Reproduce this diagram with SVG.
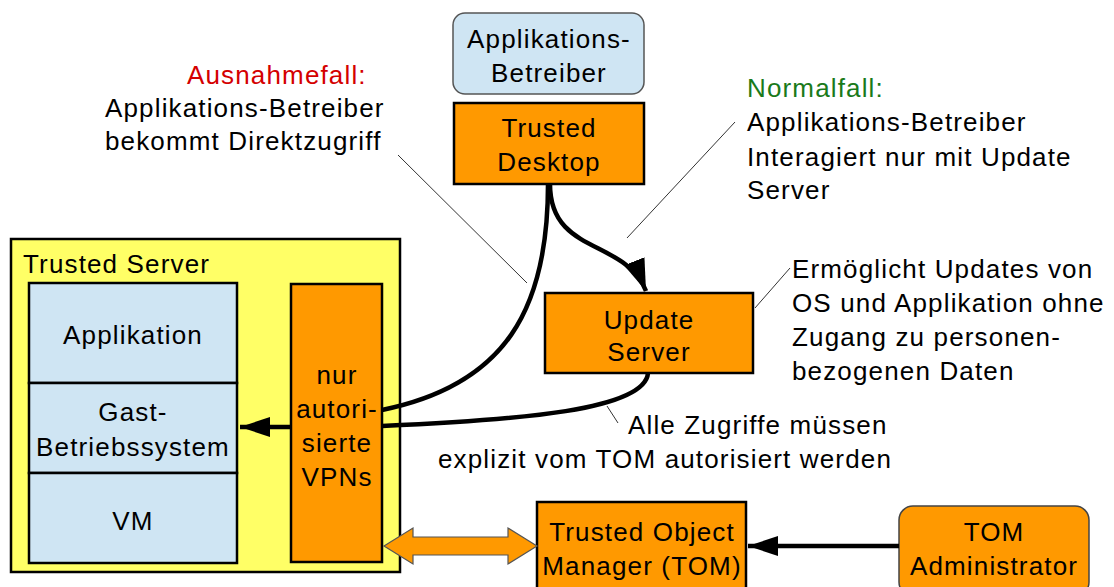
<svg xmlns="http://www.w3.org/2000/svg" width="1114" height="587" viewBox="0 0 1114 587">
  <style>
    text { font-family: "Liberation Sans", Arial, sans-serif; font-size: 26px; letter-spacing: 1.15px; fill: #000; }
    .c { text-anchor: middle; }
    .red { fill: #d40000; }
    .green { fill: #1a7a1a; }
    .orange { fill: #ff9900; stroke: #000; stroke-width: 2.5; }
    .blue { fill: #cfe5f3; stroke: #000; stroke-width: 2.5; }
    .soft { fill: #cfe5f3; stroke: #555; stroke-width: 1.5; }
    .flow { fill: none; stroke: #000; stroke-width: 4.5; }
    .lead { fill: none; stroke: #333; stroke-width: 1; }
  </style>
  <defs>
    <marker id="head" markerUnits="userSpaceOnUse" markerWidth="32" markerHeight="22" refX="30" refY="11" orient="auto" viewBox="0 0 32 22">
      <path d="M0,1 L30,11 L0,21 Z" fill="#000"/>
    </marker>
    <marker id="head-wide" markerUnits="userSpaceOnUse" markerWidth="34" markerHeight="26" refX="32" refY="13" orient="auto" viewBox="0 0 34 26">
      <path d="M0,2 L32,13 L0,24 Z" fill="#000"/>
    </marker>
  </defs>

  <rect width="1114" height="587" fill="#fff"/>

  <!-- Trusted Server with its guest stack and VPN gate -->
  <g id="trusted-server">
    <rect x="11" y="239" width="389" height="333" fill="#ffff66" stroke="#000" stroke-width="2.5"/>
    <text x="23" y="273">Trusted Server</text>
  </g>
  <g id="applikation">
    <rect class="blue" x="29" y="283" width="208" height="100"/>
    <text class="c" x="133" y="344">Applikation</text>
  </g>
  <g id="gast-os">
    <rect class="blue" x="29" y="383" width="208" height="90"/>
    <text class="c" x="133" y="421">Gast-</text>
    <text class="c" x="133" y="456">Betriebssystem</text>
  </g>
  <g id="vm">
    <rect class="blue" x="29" y="473" width="208" height="90"/>
    <text class="c" x="133" y="530">VM</text>
  </g>
  <g id="vpn">
    <rect class="orange" x="291" y="284" width="91" height="278"/>
    <text class="c" x="337" y="384">nur</text>
    <text class="c" x="337" y="418">autori-</text>
    <text class="c" x="337" y="452">sierte</text>
    <text class="c" x="337" y="486">VPNs</text>
  </g>

  <!-- Operator side -->
  <g id="app-betreiber">
    <rect class="soft" x="453" y="13" width="191" height="81" rx="12"/>
    <text class="c" x="549" y="48">Applikations-</text>
    <text class="c" x="549" y="82">Betreiber</text>
  </g>
  <g id="trusted-desktop">
    <rect class="orange" x="454" y="103" width="190" height="81"/>
    <text class="c" x="549" y="137">Trusted</text>
    <text class="c" x="549" y="171">Desktop</text>
  </g>
  <g id="update-server">
    <rect class="orange" x="545" y="293" width="208" height="80"/>
    <text class="c" x="649" y="329">Update</text>
    <text class="c" x="649" y="361">Server</text>
  </g>
  <g id="tom">
    <rect class="orange" x="537" y="502" width="209" height="90"/>
    <text class="c" x="642" y="541">Trusted Object</text>
    <text class="c" x="642" y="575">Manager (TOM)</text>
  </g>
  <g id="tom-admin">
    <rect x="899" y="506" width="190" height="90" rx="14" fill="#ff9900" stroke="#444" stroke-width="1.5"/>
    <text class="c" x="994" y="541">TOM</text>
    <text class="c" x="994" y="575">Administrator</text>
  </g>

  <!-- Connectors -->
  <g id="connectors">
    <path class="flow" d="M550,184 C550,255 625,238 646,291" marker-end="url(#head-wide)"/>
    <path class="flow" d="M548,184 C548,310 505,385 382,410"/>
    <path class="flow" d="M648,373 C645,410 520,420 382,426"/>
    <path class="flow" d="M291,427 L240,427" marker-end="url(#head)"/>
    <path class="flow" d="M899,546 L748,546" marker-end="url(#head)"/>
    <polygon points="384,546 413,528 413,537 508,537 508,528 537,546 508,564 508,555 413,555 413,564" fill="#ff9900" stroke="#555" stroke-width="1.2"/>
  </g>

  <!-- Annotations -->
  <g id="note-ausnahme">
    <text class="red" x="187" y="84">Ausnahmefall:</text>
    <text x="105" y="117">Applikations-Betreiber</text>
    <text x="105" y="150">bekommt Direktzugriff</text>
    <line class="lead" x1="398" y1="155" x2="527" y2="283"/>
  </g>
  <g id="note-normal">
    <text class="green" x="747" y="97">Normalfall:</text>
    <text x="747" y="131">Applikations-Betreiber</text>
    <text x="747" y="166">Interagiert nur mit Update</text>
    <text x="747" y="199">Server</text>
    <line class="lead" x1="735" y1="122" x2="627" y2="238"/>
  </g>
  <g id="note-update">
    <text x="792" y="278">Ermöglicht Updates von</text>
    <text x="792" y="312">OS und Applikation ohne</text>
    <text x="792" y="346">Zugang zu personen-</text>
    <text x="792" y="380">bezogenen Daten</text>
    <line class="lead" x1="790" y1="268" x2="755" y2="308"/>
  </g>
  <g id="note-tom">
    <text x="628" y="434">Alle Zugriffe müssen</text>
    <text x="438" y="468">explizit vom TOM autorisiert werden</text>
    <line class="lead" x1="607" y1="406" x2="618" y2="423"/>
  </g>
</svg>
